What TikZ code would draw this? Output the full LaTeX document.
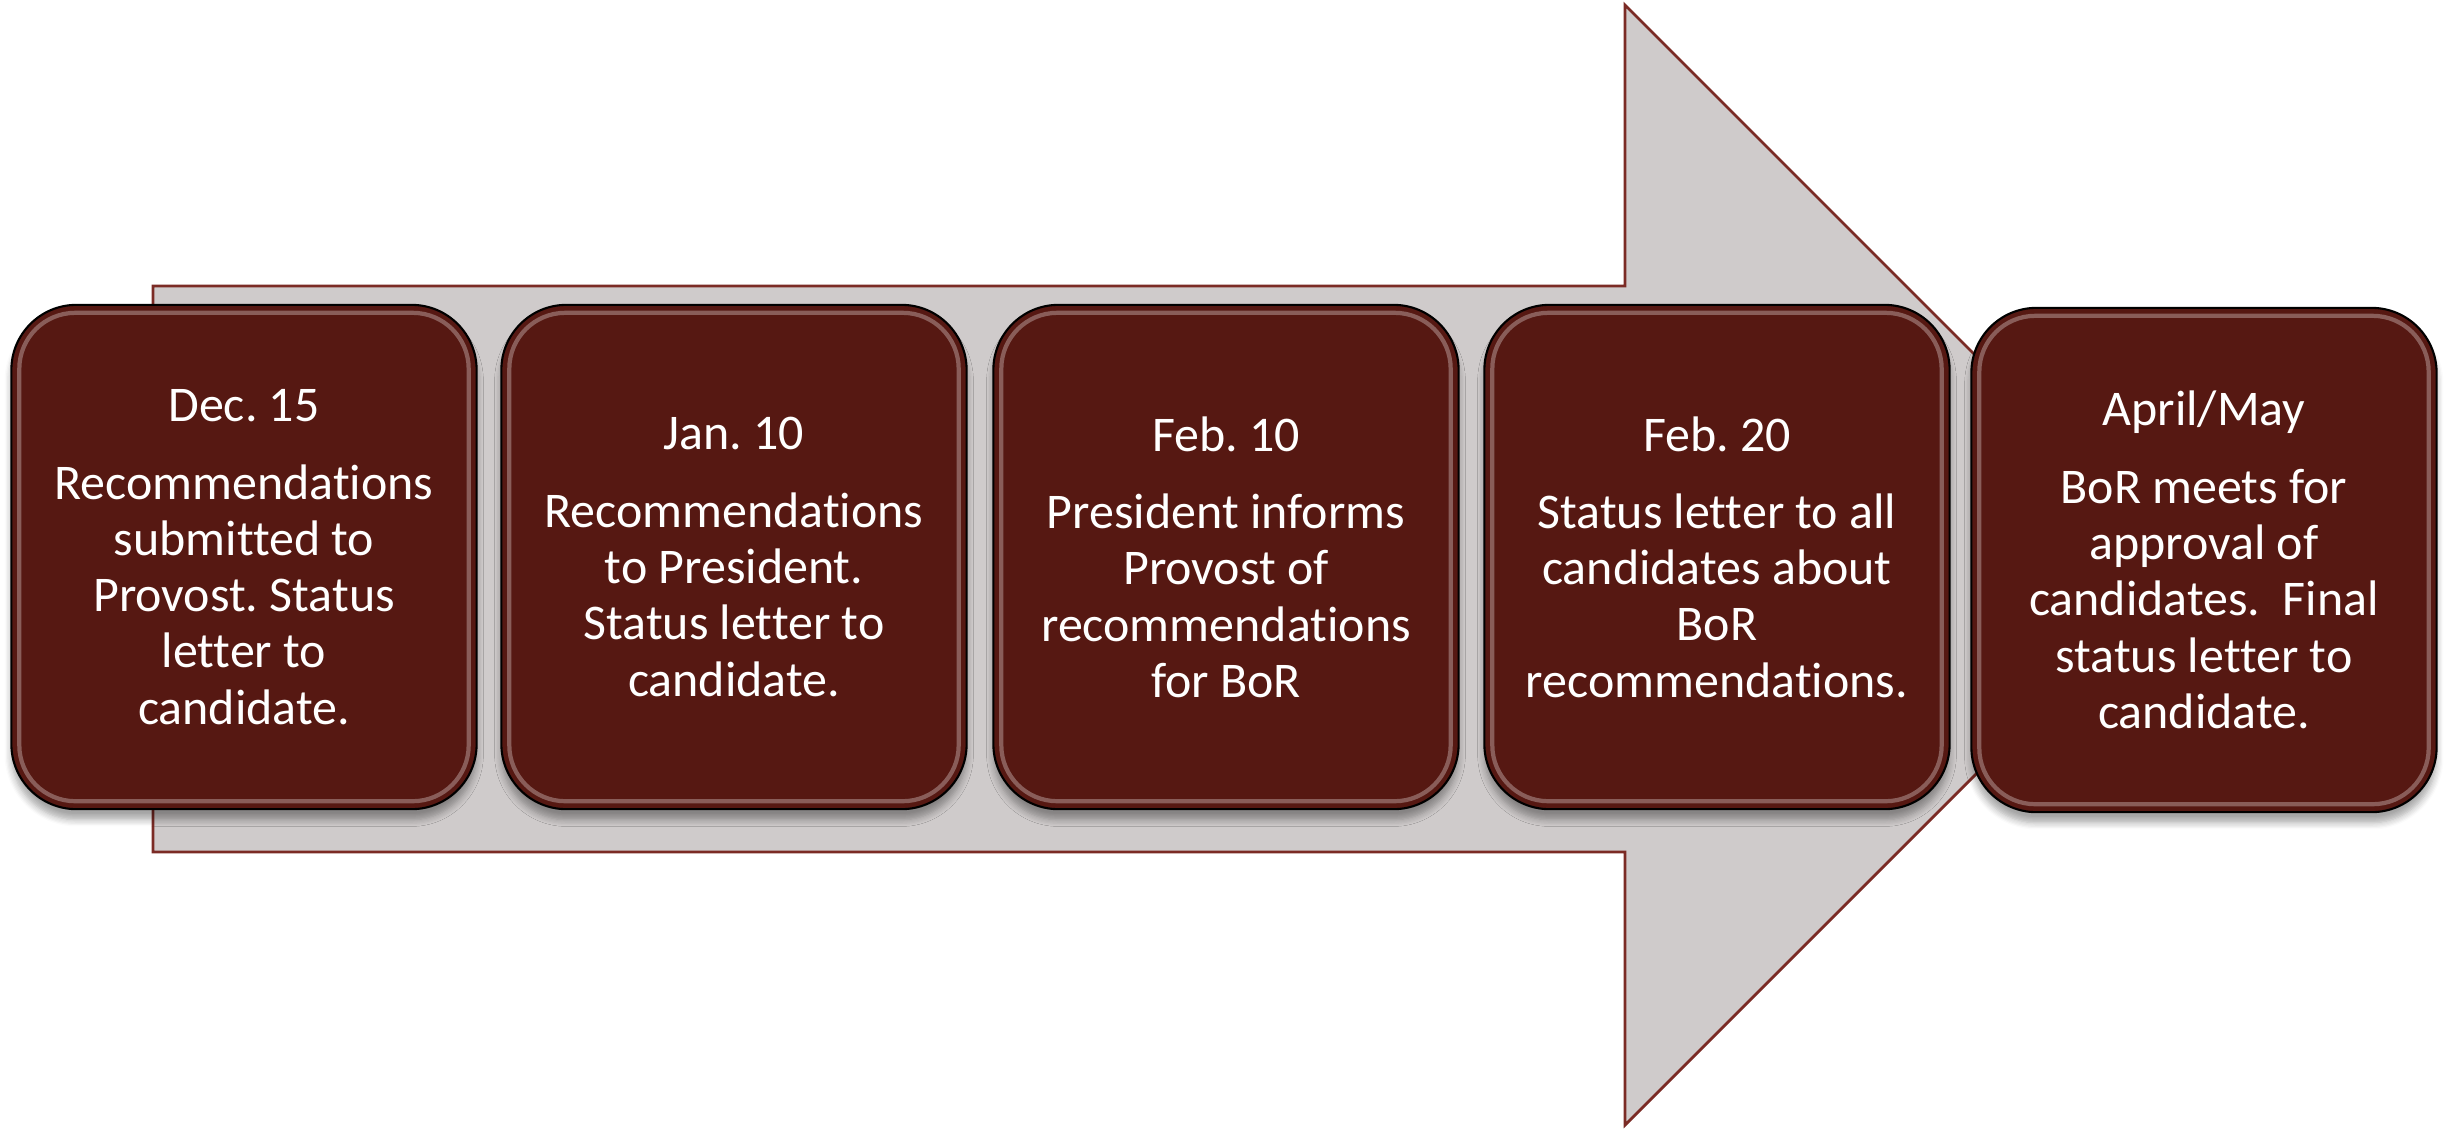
\documentclass[tikz,border=0pt]{standalone}
\usepackage{fontspec}
\setmainfont{Carlito}[Ligatures=NoCommon]
\usetikzlibrary{shadows.blur}
\definecolor{boxred}{HTML}{561812}
\definecolor{arrowgray}{HTML}{CFCBCB}
\definecolor{arrowline}{HTML}{7B2B25}
\frenchspacing
\begin{document}
\begin{tikzpicture}[x=0.01cm, y=-0.01cm,
  stepbox/.style={rectangle, draw=black, line width=0.6pt, fill=boxred, text=white,
    rounded corners=0.65cm, minimum width=4.65cm, minimum height=5.04cm, align=center,
    font=\fontsize{14.2}{16}\selectfont,
    blur shadow={shadow xshift=0pt, shadow yshift=-3pt, shadow opacity=35, shadow blur steps=6}},
  gloss/.style={draw=white, draw opacity=0.3, line width=1.2pt, rounded corners=0.56cm}]
\useasboundingbox (0,0) rectangle (2450,1129);
\draw [fill=arrowgray, draw=arrowline, line width=0.8pt] (153,286) -- (1625,286) -- (1625,5) -- (2185,565) -- (1625,1125) -- (1625,852) -- (153,852) -- cycle;

\node [stepbox] (dec) at (244,557) {Dec. 15\\[6pt] Recommendations\\ submitted to\\ Provost. Status\\ letter to\\ candidate.};
\node [stepbox] (jan) at (734,557) {Jan. 10\\[6pt] Recommendations\\ to President.\\ Status letter to\\ candidate.};
\node [stepbox] (feb10) at (1226,557) {Feb. 10\\[6pt] President informs\\ Provost of\\ recommendations\\ for BoR};
\node [stepbox] (feb20) at (1717,557) {Feb. 20\\[6pt] Status letter to all\\ candidates about\\ BoR\\ recommendations.};
\node [stepbox] (apr) at (2204,560) {April/May\\[6pt] BoR meets for\\ approval of\\ candidates.\ \ Final\\ status letter to\\ candidate.};

\foreach \b in {dec,jan,feb10,feb20,apr}
  \draw [gloss] ([shift={(9,9)}]\b.north west) rectangle ([shift={(-9,-9)}]\b.south east);
\end{tikzpicture}
\end{document}
